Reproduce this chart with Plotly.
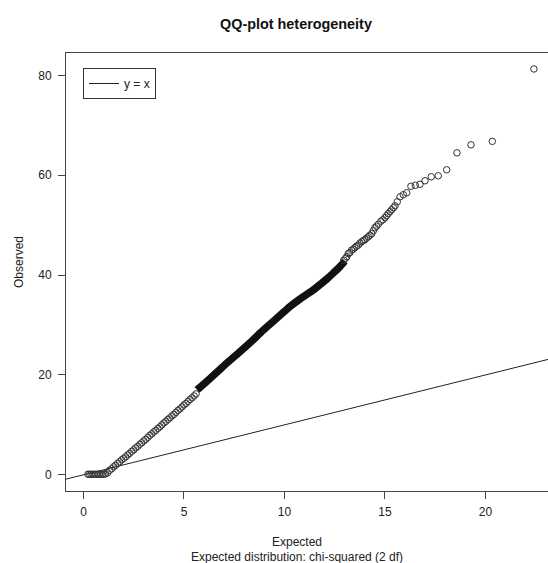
import plotly.graph_objects as go

# ---- data ----
flat_x = [0.22, 0.30, 0.38, 0.46, 0.54, 0.62, 0.70, 0.78, 0.86, 0.94, 1.02, 1.10]
flat_y = [0.1, 0.1, 0.1, 0.1, 0.1, 0.1, 0.1, 0.1, 0.1, 0.1, 0.1, 0.2]

rise_x = [1.2, 1.3, 1.4, 1.5, 1.6, 1.7, 1.8, 1.9, 2.0, 2.1, 2.2, 2.3, 2.4, 2.5, 2.6,
          2.7, 2.8, 2.9, 3.0, 3.1, 3.2, 3.3, 3.4, 3.5, 3.6, 3.7, 3.8, 3.9, 4.0, 4.1,
          4.2, 4.3, 4.4, 4.5, 4.6, 4.7, 4.8, 4.9, 5.0, 5.1, 5.2, 5.3, 5.4, 5.5, 5.6]
rise_y = [0.4, 0.9, 1.2, 1.6, 1.9, 2.3, 2.6, 3.0, 3.3, 3.6, 4.0, 4.3, 4.7, 5.0, 5.4,
          5.7, 6.1, 6.4, 6.8, 7.1, 7.5, 7.9, 8.2, 8.6, 8.9, 9.3, 9.6, 10.0, 10.4, 10.7,
          11.1, 11.4, 11.8, 12.1, 12.5, 12.9, 13.2, 13.6, 14.0, 14.3, 14.7, 15.1, 15.4, 15.8, 16.2]

dense_x = [5.65, 6.3, 7.0, 7.6, 8.3, 8.95, 9.6, 10.27, 10.8, 11.43, 11.8, 12.1, 12.4, 12.76, 13.0]
dense_y = [17.0, 19.3, 21.9, 24.0, 26.5, 29.0, 31.3, 33.7, 35.3, 37.0, 38.2, 39.2, 40.3, 41.7, 42.8]

tail_x = [12.95, 13.05, 13.1, 13.17, 13.25, 13.34, 13.42, 13.5, 13.58, 13.67, 13.75, 13.84,
          13.92, 14.0, 14.08, 14.17, 14.25, 14.34, 14.42, 14.5, 14.58, 14.67, 14.8, 14.9,
          15.0, 15.08, 15.16, 15.25, 15.33, 15.42, 15.5, 15.61, 15.75, 15.91, 16.08, 16.29,
          16.51, 16.74, 16.99, 17.30, 17.65, 18.07, 18.58, 19.28, 20.34, 22.41]
tail_y = [43.0, 43.4, 43.7, 44.3, 44.5, 45.0, 45.2, 45.5, 45.8, 46.0, 46.4, 46.7,
          46.9, 47.1, 47.4, 47.7, 48.0, 48.3, 48.9, 49.5, 49.8, 50.2, 50.8, 51.1,
          51.5, 51.9, 52.3, 52.7, 53.1, 53.5, 53.9, 54.7, 55.7, 56.1, 56.5, 57.8,
          58.0, 58.2, 58.9, 59.7, 59.9, 61.1, 64.5, 66.1, 66.8, 81.3]

ref_x = [-2, 25]
ref_y = [-2, 25]

x_ticks = [0, 5, 10, 15, 20]
y_ticks = [0, 20, 40, 60, 80]

FONT = "Liberation Sans, Arial, Helvetica, sans-serif"
PT_COLOR = "#333333"

fig = go.Figure()

fig.add_trace(go.Scatter(x=ref_x, y=ref_y, mode="lines", name="y = x",
                         line=dict(color="#222222", width=1), showlegend=True))

marker = dict(symbol="circle-open", size=6.5, color=PT_COLOR, line=dict(width=1, color=PT_COLOR))
for xs, ys in [(flat_x, flat_y), (rise_x, rise_y)]:
    fig.add_trace(go.Scatter(x=xs, y=ys, mode="markers", marker=marker,
                             showlegend=False, hoverinfo="x+y"))
fig.add_trace(go.Scatter(x=dense_x, y=dense_y, mode="lines",
                         line=dict(color="#111111", width=7.5, shape="spline", smoothing=0.6),
                         showlegend=False))
fig.add_trace(go.Scatter(x=tail_x, y=tail_y, mode="markers", marker=marker,
                         showlegend=False))

W, H = 548, 563
L, R, T, B = 66, 0, 53, 72
pw = W - L - R
ph = H - T - B

def px(xp):
    return (xp - L) / pw

def py(yp):
    return (H - B - yp) / ph

axis_common = dict(showline=True, linecolor="#444444", linewidth=1, showgrid=False,
                   zeroline=False, ticks="outside", ticklen=7, tickcolor="#444444",
                   tickwidth=1, tickfont=dict(family=FONT, size=12, color="#222222"))

fig.update_layout(
    width=W, height=H,
    margin=dict(l=L, r=R, t=T, b=B),
    paper_bgcolor="white", plot_bgcolor="white",
    font=dict(family=FONT, size=12, color="#222222"),
    xaxis=dict(range=[-0.87, 23.11], tickvals=x_ticks, ticktext=[str(v) for v in x_ticks],
               mirror=True, ticklabelstandoff=3, **axis_common),
    yaxis=dict(range=[-3.25, 84.5], tickvals=y_ticks, ticktext=[str(v) for v in y_ticks],
               mirror=False, ticklabelstandoff=4, **axis_common),
    legend=dict(x=px(83), y=py(68), xanchor="left", yanchor="top",
                bordercolor="#333333", borderwidth=1, bgcolor="white",
                font=dict(family=FONT, size=12, color="#222222")),
    annotations=[
        dict(text="<b>QQ-plot heterogeneity</b>", x=px(296), y=py(24), xref="paper", yref="paper",
             showarrow=False, xanchor="center", yanchor="middle",
             font=dict(family=FONT, size=14.4, color="#111111")),
        dict(text="Expected", x=px(297), y=py(542), xref="paper", yref="paper",
             showarrow=False, xanchor="center", yanchor="middle",
             font=dict(family=FONT, size=12, color="#222222")),
        dict(text="Expected distribution: chi-squared (2 df)", x=px(297), y=py(557),
             xref="paper", yref="paper", showarrow=False, xanchor="center", yanchor="middle",
             font=dict(family=FONT, size=12, color="#222222")),
        dict(text="Observed", x=px(19), y=py(262), xref="paper", yref="paper",
             showarrow=False, xanchor="center", yanchor="middle", textangle=-90,
             font=dict(family=FONT, size=12, color="#222222")),
    ],
)

fig.write_html("out.html")
